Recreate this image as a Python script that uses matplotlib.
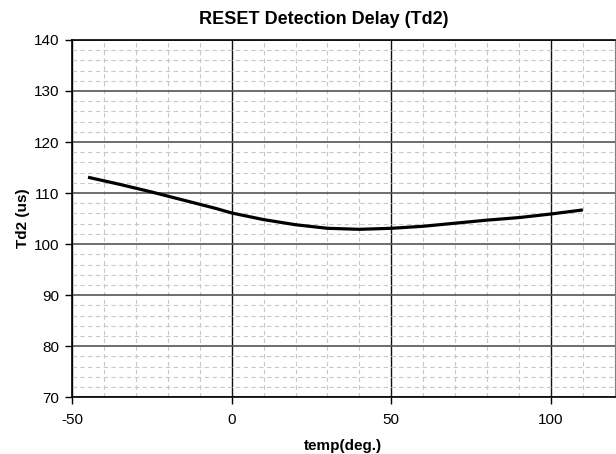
import matplotlib
matplotlib.use("Agg")
import matplotlib.pyplot as plt
from matplotlib.ticker import MultipleLocator

plt.rcParams["font.family"] = ["Liberation Sans", "DejaVu Sans"]
plt.rcParams["axes.unicode_minus"] = False

# temperature (deg) vs Td2 (us)
temp = [-45, -35, -25, -15, -5, 0, 10, 20, 30, 40, 50, 60, 70, 80, 90, 100, 110]
td2 = [113.1, 111.7, 110.2, 108.6, 107.0, 106.1, 104.8, 103.8, 103.1, 102.9,
       103.1, 103.5, 104.1, 104.7, 105.2, 105.9, 106.7]

x_ticks = [-50, 0, 50, 100]
y_ticks = [70, 80, 90, 100, 110, 120, 130, 140]

fig = plt.figure(figsize=(6.16, 4.54), dpi=100)
ax = fig.add_axes([0.117, 0.125, 0.881, 0.787])

ax.plot(temp, td2, color="black", linewidth=2.3, solid_capstyle="butt", zorder=5)

ax.set_xlim(-50, 120)
ax.set_ylim(70, 140)
ax.set_xticks(x_ticks)
ax.set_yticks(y_ticks)
ax.xaxis.set_minor_locator(MultipleLocator(10))
ax.yaxis.set_minor_locator(MultipleLocator(2))

ax.grid(which="minor", color="#c8c8c8", linestyle=(0, (4, 3)), linewidth=0.8)
ax.xaxis.grid(which="major", color="#111111", linestyle="-", linewidth=1.0)
ax.yaxis.grid(which="major", color="#555555", linestyle="-", linewidth=1.2)
ax.set_axisbelow(True)

ax.tick_params(which="major", direction="out", length=5, width=1, labelsize=11, pad=4)
ax.tick_params(axis="x", which="major", pad=6)
ax.tick_params(which="minor", length=0)
for side in ["left", "bottom", "top"]:
    ax.spines[side].set_color("black")
    ax.spines[side].set_linewidth(1.2)
ax.spines["right"].set_color("#808080")

fig.text(324 / 616, 1 - 19 / 454, "RESET Detection Delay (Td2)",
         fontsize=13, fontweight="bold", ha="center", va="center")
ax.set_xlabel("temp(deg.)", fontsize=11, fontweight="bold", va="center")
ax.xaxis.set_label_coords(0.5, -0.137)
ax.set_ylabel("Td2 (us)", fontsize=11, fontweight="bold", va="center")
ax.yaxis.set_label_coords(-0.09, 0.5)

fig.savefig("out.png", dpi=100)
